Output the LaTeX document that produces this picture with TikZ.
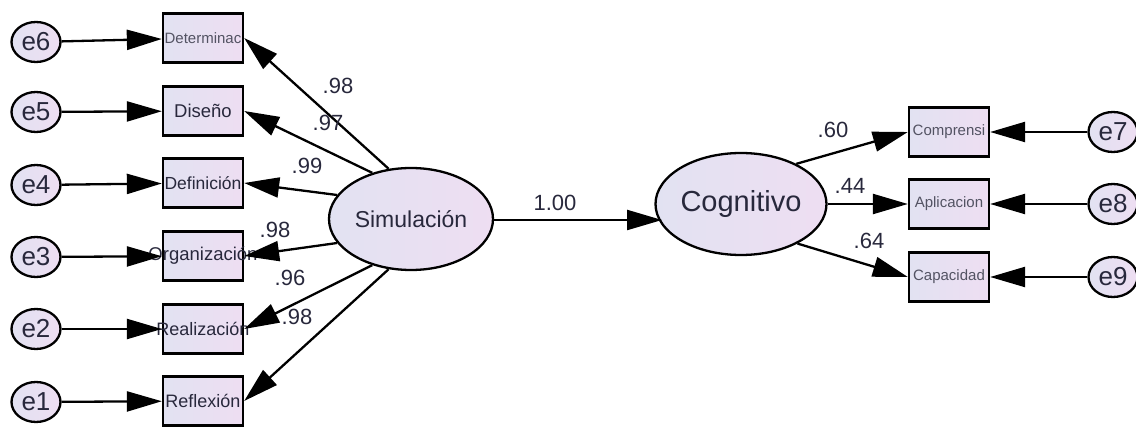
\documentclass[tikz,border=0pt]{standalone}
\usepackage{fontspec}
\setmainfont{Liberation Sans}
\usetikzlibrary{arrows.meta,shapes.geometric}
\definecolor{txt}{RGB}{40,40,60}
\definecolor{fillA}{RGB}{226,226,242}
\definecolor{fillB}{RGB}{238,222,242}
\newcommand{\fs}[1]{\fontsize{#1}{#1}\selectfont}
\tikzset{
  lw/.style={line width=2.3pt},
  errc/.style={ellipse,draw,lw,minimum width=49pt,minimum height=40pt,inner sep=0pt,left color=fillA,right color=fillB,text=txt,font=\fs{26}},
  obs/.style={rectangle,draw,lw,minimum width=80pt,minimum height=49pt,inner sep=0pt,left color=fillA,right color=fillB,text=txt},
  lat/.style={ellipse,draw,lw,minimum width=164pt,minimum height=102pt,inner sep=0pt,left color=fillA,right color=fillB,text=txt},
  arr/.style={lw,-{Triangle[length=35pt,width=20pt]}},
  lab/.style={text=txt,font=\fs{22}},
  small/.style={text=txt!80,font=\fs{15}},
}
\begin{document}
\begin{tikzpicture}[x=1pt,y=-1pt]
\useasboundingbox (0,0) rectangle (1136,430);
% left error terms
\node[errc] (e6) at (36,42) {e6};
\node[errc] (e5) at (36,112) {e5};
\node[errc] (e4) at (36,185) {e4};
\node[errc] (e3) at (36,257) {e3};
\node[errc] (e2) at (36,329) {e2};
\node[errc] (e1) at (36,402) {e1};
% left observed
\node[obs] (b6) at (203,38) {};
\node[obs] (b5) at (203,111) {};
\node[obs] (b4) at (203,183) {};
\node[obs] (b3) at (203,256) {};
\node[obs] (b2) at (203,329) {};
\node[obs] (b1) at (203,401) {};
\node[small,inner sep=0pt] (t6) at (b6) {Determinac};
\node[text=txt,font=\fs{18.5},inner sep=0pt] (t5) at (b5) {Diseño};
\node[text=txt,font=\fs{17.5},inner sep=0pt] (t4) at (b4) {Definición};
\node[text=txt,font=\fs{18.5},inner sep=0pt] (t3) at (b3) {Organización};
\node[text=txt,font=\fs{18},inner sep=0pt] (t2) at (b2) {Realización};
\node[text=txt,font=\fs{18},inner sep=0pt] (t1) at (b1) {Reflexión};
% latent
\node[lat,font=\fs{23}] (sim) at (411,219) {Simulación};
\node[lat,font=\fs{29}] (cog) at (741,204) {Cognitivo};
% right observed
\node[obs] (c7) at (949,132) {};
\node[obs] (c8) at (949,204) {};
\node[obs] (c9) at (949,277) {};
\node[small,inner sep=0pt] (t7) at (c7) {Comprensi};
\node[small,inner sep=0pt] (t8) at (c8) {Aplicacion};
\node[small,inner sep=0pt] (t9) at (c9) {Capacidad};
% right errors
\node[errc] (e7) at (1113,132) {e7};
\node[errc] (e8) at (1113,204) {e8};
\node[errc] (e9) at (1113,277) {e9};
% error arrows
\foreach \e/\b in {e6/b6,e5/b5,e4/b4,e3/b3,e2/b2,e1/b1} \draw[arr] (\e) -- (\b);
\foreach \e/\b in {e7/c7,e8/c8,e9/c9} \draw[arr] (\e) -- (\b);
% loadings
\foreach \a/\b in {114/b6,130/b5,162/b4,198/b3,230/b2,246/b1} \draw[arr] (sim.\a) -- (\b.east);
\foreach \a/\b in {36/c7,0/c8,325/c9} \draw[arr] (cog.\a) -- (\b.west);
% structural
\coordinate (sr) at (493,220);
\path (cog.center) ++(-79,16) coordinate (cl);
\draw[arr] (sim.east |- sr) -- (cl);
% coefficient labels
\node[lab] (l6) at (338,86) {.98};
\node[lab] (l5) at (328,123) {.97};
\node[lab] (l4) at (307,166) {.99};
\node[lab] (l3) at (275,230) {.98};
\node[lab] (l2) at (290,278) {.96};
\node[lab] (l1) at (297,317) {.98};
\node[lab] (lsc) at (555,203) {1.00};
\node[lab] (l7) at (833,130) {.60};
\node[lab] (l8) at (850,186) {.44};
\node[lab] (l9) at (869,241) {.64};
\end{tikzpicture}
\end{document}
